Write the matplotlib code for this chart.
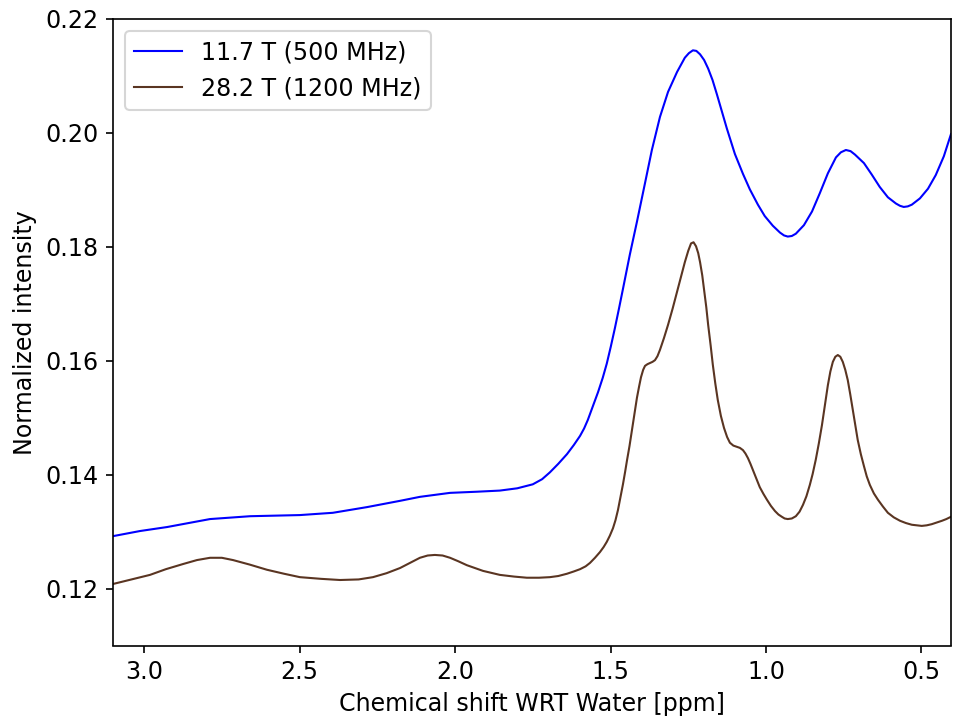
import matplotlib
matplotlib.use('Agg')
import matplotlib.pyplot as plt

# 11.7 T (500 MHz) spectrum
shift_500 = [3.100, 3.013, 2.926, 2.788, 2.659, 2.499, 2.393, 2.283, 2.177, 2.113,
             2.016, 1.930, 1.856, 1.800, 1.750, 1.720, 1.695, 1.668, 1.640, 1.618,
             1.598, 1.585, 1.573, 1.540, 1.525, 1.512, 1.499, 1.486, 1.473, 1.460,
             1.438, 1.415, 1.389, 1.367, 1.341, 1.315, 1.286, 1.261, 1.248, 1.235,
             1.224, 1.212, 1.199, 1.186, 1.172, 1.158, 1.142, 1.126, 1.100, 1.074,
             1.052, 1.026, 1.004, 0.978, 0.955, 0.942, 0.930, 0.917, 0.904, 0.878,
             0.852, 0.827, 0.801, 0.775, 0.759, 0.743, 0.728, 0.714, 0.685, 0.660,
             0.634, 0.608, 0.582, 0.569, 0.557, 0.544, 0.531, 0.505, 0.479, 0.454,
             0.428, 0.405]
int_500 = [0.1292, 0.1301, 0.1308, 0.1322, 0.1327, 0.1329, 0.1333, 0.1343, 0.1354, 0.1361,
           0.1368, 0.1370, 0.1372, 0.1376, 0.1383, 0.1392, 0.1404, 0.1419, 0.1436, 0.1452,
           0.1468, 0.1481, 0.1496, 0.1545, 0.1570, 0.1595, 0.1625, 0.1657, 0.1691, 0.1726,
           0.1786, 0.1844, 0.1912, 0.1970, 0.2028, 0.2072, 0.2107, 0.2132, 0.2140, 0.2145,
           0.2144, 0.2138, 0.2128, 0.2113, 0.2093, 0.2068, 0.2038, 0.2008, 0.1963, 0.1928,
           0.1901, 0.1874, 0.1854, 0.1837, 0.1825, 0.1820, 0.1818, 0.1819, 0.1823, 0.1838,
           0.1862, 0.1894, 0.1929, 0.1957, 0.1966, 0.1970, 0.1968, 0.1962, 0.1947, 0.1927,
           0.1905, 0.1887, 0.1876, 0.1872, 0.1870, 0.1871, 0.1874, 0.1885, 0.1902, 0.1926,
           0.1959, 0.1998]

# 28.2 T (1200 MHz) spectrum
shift_1200 = [3.100, 3.040, 2.981, 2.930, 2.875, 2.830, 2.788, 2.750, 2.714, 2.660,
              2.605, 2.550, 2.499, 2.430, 2.370, 2.310, 2.264, 2.220, 2.177, 2.145,
              2.113, 2.088, 2.065, 2.040, 2.016, 1.990, 1.962, 1.910, 1.856, 1.810,
              1.769, 1.730, 1.695, 1.668, 1.640, 1.618, 1.598, 1.580, 1.566, 1.550,
              1.534, 1.522, 1.512, 1.502, 1.492, 1.484, 1.476, 1.468, 1.460, 1.453,
              1.447, 1.439, 1.431, 1.423, 1.415, 1.408, 1.402, 1.395, 1.389, 1.381,
              1.373, 1.365, 1.357, 1.349, 1.341, 1.328, 1.315, 1.300, 1.286, 1.273,
              1.261, 1.250, 1.241, 1.233, 1.225, 1.218, 1.212, 1.205, 1.199, 1.192,
              1.186, 1.178, 1.171, 1.163, 1.155, 1.145, 1.135, 1.125, 1.116, 1.105,
              1.094, 1.084, 1.074, 1.066, 1.058, 1.050, 1.042, 1.031, 1.020, 1.008,
              0.997, 0.984, 0.971, 0.960, 0.949, 0.940, 0.930, 0.917, 0.904, 0.892,
              0.881, 0.870, 0.859, 0.850, 0.840, 0.830, 0.820, 0.810, 0.801, 0.793,
              0.785, 0.777, 0.769, 0.761, 0.753, 0.745, 0.737, 0.729, 0.721, 0.713,
              0.705, 0.695, 0.685, 0.676, 0.666, 0.653, 0.640, 0.624, 0.608, 0.589,
              0.569, 0.550, 0.531, 0.515, 0.499, 0.483, 0.467, 0.450, 0.434, 0.420,
              0.405]
int_1200 = [0.1208, 0.1216, 0.1224, 0.1234, 0.1243, 0.1250, 0.1254, 0.1254, 0.1250, 0.1242,
            0.1233, 0.1226, 0.1220, 0.1217, 0.1215, 0.1216, 0.1220, 0.1227, 0.1236, 0.1245,
            0.1254, 0.1258, 0.1259, 0.1258, 0.1254, 0.1248, 0.1241, 0.1231, 0.1224, 0.1221,
            0.1219, 0.1219, 0.1220, 0.1222, 0.1226, 0.1230, 0.1234, 0.1239, 0.1245, 0.1254,
            0.1264, 0.1273, 0.1282, 0.1293, 0.1306, 0.1320, 0.1338, 0.1360, 0.1383, 0.1405,
            0.1425, 0.1450, 0.1478, 0.1507, 0.1535, 0.1555, 0.1571, 0.1584, 0.1591, 0.1594,
            0.1596, 0.1598, 0.1601, 0.1608, 0.1619, 0.1640, 0.1663, 0.1692, 0.1721, 0.1748,
            0.1773, 0.1793, 0.1806, 0.1808, 0.1801, 0.1789, 0.1773, 0.1750, 0.1724, 0.1694,
            0.1663, 0.1627, 0.1593, 0.1560, 0.1531, 0.1503, 0.1482, 0.1466, 0.1456, 0.1451,
            0.1449, 0.1447, 0.1443, 0.1437, 0.1429, 0.1419, 0.1408, 0.1393, 0.1378, 0.1366,
            0.1356, 0.1345, 0.1336, 0.1330, 0.1326, 0.1323, 0.1322, 0.1323, 0.1327, 0.1335,
            0.1347, 0.1362, 0.1382, 0.1401, 0.1426, 0.1455, 0.1487, 0.1524, 0.1557, 0.1581,
            0.1598, 0.1607, 0.1610, 0.1607, 0.1598, 0.1584, 0.1566, 0.1541, 0.1514, 0.1487,
            0.1461, 0.1436, 0.1415, 0.1397, 0.1382, 0.1367, 0.1356, 0.1344, 0.1333, 0.1325,
            0.1319, 0.1315, 0.1312, 0.1311, 0.1310, 0.1311, 0.1313, 0.1316, 0.1319, 0.1322,
            0.1326]

plt.rcParams['font.size'] = 11.4

fig, ax = plt.subplots(figsize=(958 / 150, 719 / 150), dpi=150)
fig.subplots_adjust(left=113 / 958, right=951 / 958, top=1 - 19 / 719, bottom=1 - 645.5 / 719)

ax.plot(shift_500, int_500, color='blue', lw=1.0, label='11.7 T (500 MHz)')
ax.plot(shift_1200, int_1200, color='#5a3522', lw=1.0, label='28.2 T (1200 MHz)')

ax.set_xlim(3.1, 0.405)
ax.set_ylim(0.11, 0.22)
ax.set_yticks([0.12, 0.14, 0.16, 0.18, 0.20, 0.22])
ax.set_xlabel('Chemical shift WRT Water [ppm]')
ax.set_ylabel('Normalized intensity')
ax.legend(loc='upper left')

plt.savefig('out.png', dpi=150)
plt.close()
